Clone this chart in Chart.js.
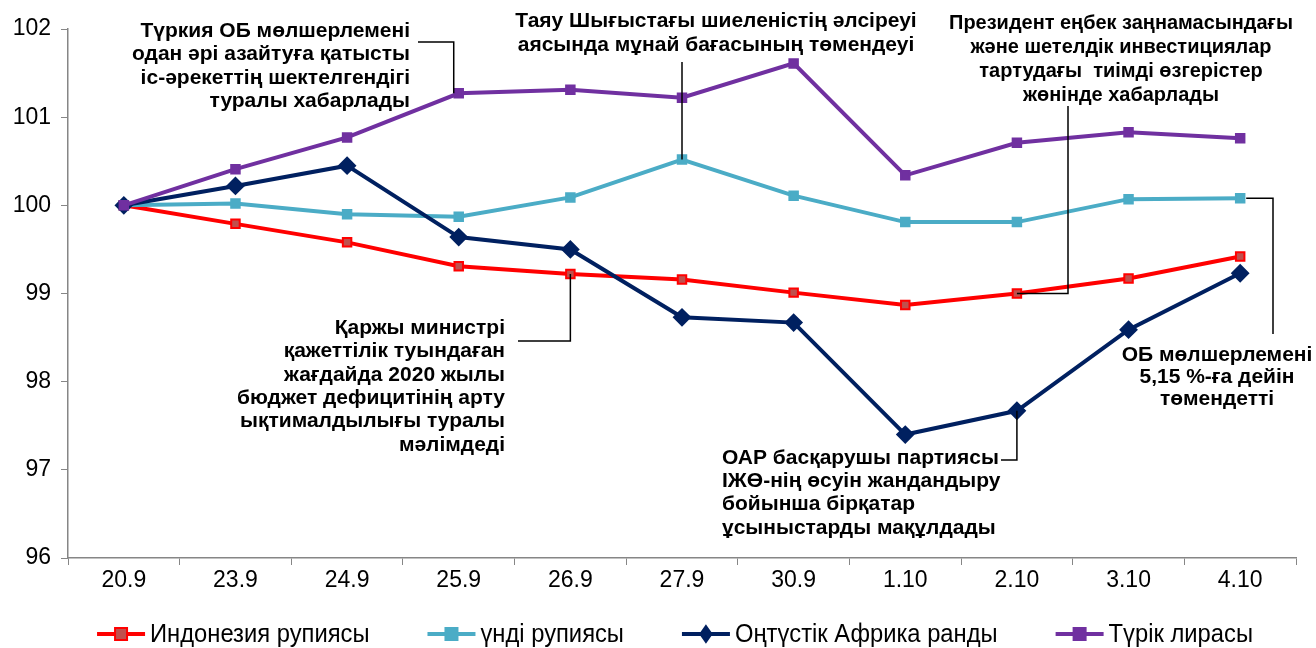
<!DOCTYPE html>
<html lang="kk">
  <head>
    <meta charset="UTF-8" />
    <title>Валюталар</title>
    <script src="https://cdn.jsdelivr.net/npm/chart.js"></script>
    <style>
      body {
        margin: 0;
        padding: 0;
        background: #fff;
      }
      #wrap {
        width: 1316px;
        height: 648px;
      }
    </style>
  </head>
  <body>
    <div id="wrap"><canvas id="chart" width="1316" height="648"></canvas></div>

    <script>
      const categories = ["20.9", "23.9", "24.9", "25.9", "26.9", "27.9", "30.9", "1.10", "2.10", "3.10", "4.10"];
      const indonesia = [100, 99.79, 99.58, 99.31, 99.22, 99.16, 99.01, 98.87, 99.0, 99.17, 99.42];
      const india = [100, 100.02, 99.9, 99.87, 100.09, 100.52, 100.11, 99.81, 99.81, 100.07, 100.08];
      const southAfrica = [100, 100.22, 100.45, 99.64, 99.5, 98.73, 98.67, 97.4, 97.67, 98.59, 99.23];
      const turkey = [100, 100.41, 100.77, 101.27, 101.31, 101.22, 101.61, 100.34, 100.71, 100.83, 100.76];
      const seriesNames = ["Индонезия рупиясы", "үнді рупиясы", "Оңтүстік Африка ранды", "Түрік лирасы"];

      const FONT = "'Liberation Sans', Arial, sans-serif";

      // notes: text lines, anchor point (dataset, index), where the text sits
      const notes = [
        {
          lines: ["Түркия ОБ мөлшерлемені", "одан әрі азайтуға қатысты", "іс-әрекеттің шектелгендігі", "туралы хабарлады"],
          ds: 3, idx: 3, align: "right", x: 410, y: 31, step: 23.5,
          path: (p) => [[418, 42], [p.x - 5, 42], [p.x - 5, p.y]],
        },
        {
          lines: ["Таяу Шығыстағы шиеленістің әлсіреуі", "аясында мұнай бағасының төмендеуі"],
          ds: 1, idx: 5, align: "center", x: 716, y: 21, step: 24,
          path: (p) => [[p.x, 62], [p.x, p.y]],
        },
        {
          lines: ["Президент еңбек заңнамасындағы", "және шетелдік инвестициялар", "тартудағы  тиімді өзгерістер", "жөнінде хабарлады"],
          ds: 0, idx: 8, align: "center", x: 1121, y: 23, step: 24, squeeze: 0.95,
          path: (p) => [[1068, 106], [1068, p.y], [p.x, p.y]],
        },
        {
          lines: ["Қаржы министрі", "қажеттілік туындаған", "жағдайда 2020 жылы", "бюджет дефицитінің арту", "ықтималдылығы туралы", "мәлімдеді"],
          ds: 0, idx: 4, align: "right", x: 505, y: 328, step: 23.4,
          path: (p) => [[518, 341], [p.x, 341], [p.x, p.y]],
        },
        {
          lines: ["ОАР басқарушы партиясы", "ІЖӨ-нің өсуін жандандыру", "бойынша бірқатар", "ұсыныстарды мақұлдады"],
          ds: 2, idx: 8, align: "left", x: 722, y: 458, step: 23.3,
          path: (p) => [[1001, 460], [p.x, 460], [p.x, p.y]],
        },
        {
          lines: ["ОБ мөлшерлемені", "5,15 %-ға дейін", "төмендетті"],
          ds: 1, idx: 10, align: "center", x: 1217, y: 355, step: 22,
          path: (p) => [[p.x + 6, p.y], [1273, p.y], [1273, 334]],
        },
      ];

      const notesPlugin = {
        id: "notes",
        afterDatasetsDraw(chart) {
          const ctx = chart.ctx;
          ctx.save();
          notes.forEach((n) => {
            const pt = chart.getDatasetMeta(n.ds).data[n.idx];
            const pts = n.path({ x: pt.x, y: pt.y });
            ctx.strokeStyle = "#000";
            ctx.lineWidth = 1.5;
            ctx.beginPath();
            pts.forEach((q, i) => (i ? ctx.lineTo(q[0], q[1]) : ctx.moveTo(q[0], q[1])));
            ctx.stroke();
            ctx.fillStyle = "#000";
            ctx.font = "bold 21px " + FONT;
            ctx.textAlign = n.align;
            ctx.textBaseline = "middle";
            n.lines.forEach((t, i) => {
              const w = ctx.measureText(t).width * (n.squeeze || 1);
              ctx.fillText(t, n.x, n.y + i * n.step, w);
            });
          });
          ctx.restore();
        },
      };

      // legend with line + marker, like the original
      const legendPlugin = {
        id: "lineLegend",
        afterDraw(chart) {
          const ctx = chart.ctx;
          const y = 634;
          const lineLen = 48, gap = 5, spacing = 58, squeeze = 0.95;
          ctx.save();
          ctx.font = "25px " + FONT;
          const textW = chart.data.datasets.map((d) => ctx.measureText(d.label).width * squeeze);
          const widths = textW.map((w) => lineLen + gap + w);
          const total = widths.reduce((a, b) => a + b, 0) + spacing * (widths.length - 1);
          let x = 675 - total / 2;
          chart.data.datasets.forEach((d, i) => {
            ctx.strokeStyle = d.borderColor;
            ctx.lineWidth = 4;
            ctx.beginPath();
            ctx.moveTo(x, y);
            ctx.lineTo(x + lineLen, y);
            ctx.stroke();
            ctx.fillStyle = d.pointBackgroundColor;
            ctx.strokeStyle = d.pointBorderColor;
            ctx.lineWidth = d.pointBorderWidth;
            ctx.beginPath();
            const cx = x + lineLen / 2;
            const r = d.pointRadius;
            if (d.pointStyle === "rectRot") {
              ctx.moveTo(cx, y - r);
              ctx.lineTo(cx + r * 0.7, y);
              ctx.lineTo(cx, y + r);
              ctx.lineTo(cx - r * 0.7, y);
              ctx.closePath();
            } else {
              ctx.rect(cx - r, y - r, 2 * r, 2 * r);
            }
            ctx.fill();
            ctx.stroke();
            ctx.fillStyle = "#000";
            ctx.textAlign = "left";
            ctx.textBaseline = "middle";
            ctx.fillText(d.label, x + lineLen + gap, y + 1, textW[i]);
            x += widths[i] + spacing;
          });
          ctx.restore();
        },
      };

      function lineSet(label, data, color, fill, style, radius, order) {
        return {
          label: label,
          data: data,
          borderColor: color,
          backgroundColor: color,
          borderWidth: 4,
          pointStyle: style,
          pointRadius: radius,
          pointHoverRadius: radius,
          pointBackgroundColor: fill,
          pointBorderColor: color,
          pointBorderWidth: 2,
          tension: 0,
          order: order,
        };
      }

      new Chart(document.getElementById("chart"), {
        type: "line",
        data: {
          labels: categories,
          datasets: [
            lineSet(seriesNames[0], indonesia, "#ff0000", "#c0504d", "rect", 6, 4),
            lineSet(seriesNames[1], india, "#4bacc6", "#4bacc6", "rect", 6, 3),
            lineSet(seriesNames[2], southAfrica, "#002060", "#002060", "rectRot", 8, 2),
            lineSet(seriesNames[3], turkey, "#7030a0", "#7030a0", "rect", 6, 1),
          ],
        },
        options: {
          responsive: false,
          animation: false,
          layout: { padding: { left: 0, right: 20, top: 29, bottom: 50 } },
          plugins: {
            legend: { display: false },
            tooltip: { enabled: false },
          },
          scales: {
            x: {
              offset: true,
              grid: { offset: true, drawOnChartArea: false, color: "#868686", tickLength: 7 },
              border: { color: "#868686", width: 1.5 },
              ticks: { color: "#000", font: { family: FONT, size: 23 }, padding: 2, maxRotation: 0 },
              afterFit: (s) => { s.height = 40; },
            },
            y: {
              min: 96,
              max: 102,
              ticks: { stepSize: 1, color: "#000", font: { family: FONT, size: 23 }, padding: 10 },
              grid: { drawOnChartArea: false, color: "#868686", tickLength: 7 },
              border: { color: "#868686", width: 1.5 },
              afterFit: (s) => { s.width = 68; },
            },
          },
        },
        plugins: [notesPlugin, legendPlugin],
      });
    </script>
  </body>
</html>
